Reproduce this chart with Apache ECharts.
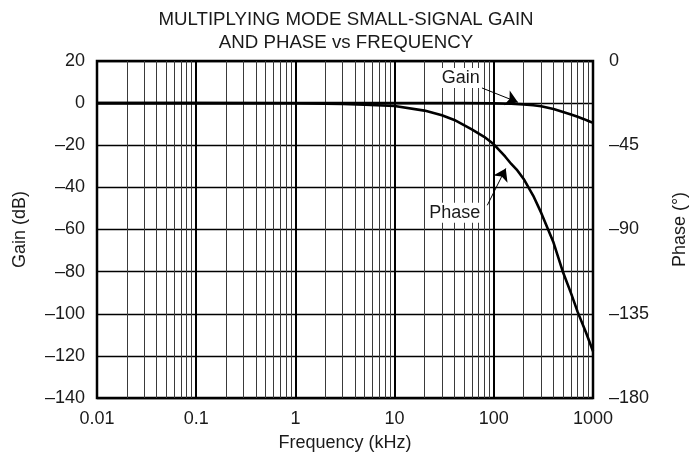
<!DOCTYPE html>
<html>
<head>
<meta charset="utf-8">
<script src="https://cdn.jsdelivr.net/npm/echarts@6/dist/echarts.min.js"></script>
<style>
  body { margin: 0; background: #fff; }
  #chart { width: 698px; height: 462px; }
</style>
</head>
<body>
<div id="chart"></div>
<script>
  // frequency points in kHz
  var gainFreq = [0.01, 0.1, 1, 10, 50, 100, 150, 200, 250, 300, 400, 500, 600, 700, 800, 900, 1000]
  var gainDb = [0, 0, 0, 0, 0, -0.1, -0.3, -0.6, -1.0, -1.5, -2.8, -4.2, -5.4, -6.5, -7.5, -8.5, -9.4]

  var phaseFreq = [0.01, 0.1, 1, 2, 3, 5, 10, 20, 30, 40, 60, 80, 100, 130, 150, 170, 200, 250, 300, 400, 500, 600, 700, 850, 1000]
  var phaseDeg = [-22.5, -22.5, -22.6, -22.8, -23, -23.4, -24, -26.5, -29, -31.5, -36.5, -40.5, -44.5, -51, -55, -58, -63, -72, -81, -97, -113, -124, -134, -145, -155]

  // minor log gridlines 2..9 in every decade
  var decades = [0.01, 0.1, 1, 10, 100]
  var minorSteps = [2, 3, 4, 5, 6, 7, 8, 9]

  var gainTicks = [20, 0, -20, -40, -60, -80, -100, -120, -140]
  var phaseTicks = [0, -45, -90, -135, -180]

  function pairs(xs, ys) {
    var arr = []
    for (var i = 0; i < xs.length; i++) {
      arr.push([xs[i], ys[i]])
    }
    return arr
  }

  function fmtNeg(v) {
    return v < 0 ? '\u2013' + Math.abs(v) : '' + v
  }

  var minorLines = []
  for (var d = 0; d < decades.length; d++) {
    for (var m = 0; m < minorSteps.length; m++) {
      minorLines.push({xAxis: +(decades[d] * minorSteps[m]).toPrecision(3)})
    }
  }

  var font = '"Liberation Sans", Arial, Helvetica, sans-serif'
  var txt = '#1a1a1a'
  var chart = echarts.init(document.getElementById('chart'), null, {renderer: 'canvas'})

  var option = {
    backgroundColor: '#fff',
    animation: false,
    textStyle: {fontFamily: font},
    title: {
      text: 'MULTIPLYING MODE SMALL-SIGNAL GAIN\nAND PHASE vs FREQUENCY',
      left: 341,
      textAlign: 'center',
      top: 3,
      textStyle: {
        fontFamily: font,
        fontSize: 18.7,
        fontWeight: 'normal',
        color: txt,
        lineHeight: 23.5
      }
    },
    grid: {
      left: 97,
      right: 105,
      top: 61,
      bottom: 64,
      show: true,
      borderColor: '#000',
      borderWidth: 2.5,
      backgroundColor: 'transparent'
    },
    xAxis: {
      type: 'log',
      logBase: 10,
      min: 0.01,
      max: 1000,
      name: 'Frequency (kHz)',
      nameLocation: 'middle',
      nameGap: 36,
      nameTextStyle: {fontFamily: font, fontSize: 18, color: txt},
      axisLine: {show: false},
      axisTick: {show: false},
      axisLabel: {
        fontFamily: font,
        fontSize: 18,
        color: txt,
        margin: 12,
        formatter: function (v) { return '' + (+v.toPrecision(3)) }
      },
      splitLine: {show: true, lineStyle: {color: '#000', width: 2}}
    },
    yAxis: [
      {
        type: 'value',
        min: -140,
        max: 20,
        interval: 20,
        name: 'Gain (dB)',
        nameLocation: 'middle',
        nameGap: 68,
        nameTextStyle: {fontFamily: font, fontSize: 18, color: txt},
        axisLine: {show: false},
        axisTick: {show: false},
        axisLabel: {
          fontFamily: font, fontSize: 18, color: txt, margin: 12,
          formatter: function (v) { return gainTicks.indexOf(v) >= 0 ? fmtNeg(v) : '' }
        },
        splitLine: {show: true, lineStyle: {color: '#000', width: 1.3}}
      },
      {
        type: 'value',
        min: -180,
        max: 0,
        interval: 45,
        position: 'right',
        name: 'Phase (°)',
        nameLocation: 'middle',
        nameGap: 78,
        nameRotate: 90,
        nameTextStyle: {fontFamily: font, fontSize: 18, color: txt},
        axisLine: {show: false},
        axisTick: {show: false},
        axisLabel: {
          fontFamily: font, fontSize: 18, color: txt, margin: 16,
          formatter: function (v) { return phaseTicks.indexOf(v) >= 0 ? fmtNeg(v) : '' }
        },
        splitLine: {show: false}
      }
    ],
    series: [
      {
        name: 'Gain',
        type: 'line',
        yAxisIndex: 0,
        data: pairs(gainFreq, gainDb),
        showSymbol: false,
        z: 5,
        lineStyle: {color: '#000', width: 2.6, join: 'round'},
        markLine: {
          silent: true,
          symbol: 'none',
          label: {show: false},
          lineStyle: {color: '#3a3a3a', width: 1, type: 'solid'},
          z: 1,
          data: minorLines
        }
      },
      {
        name: 'Phase',
        type: 'line',
        yAxisIndex: 1,
        data: pairs(phaseFreq, phaseDeg),
        showSymbol: false,
        z: 5,
        lineStyle: {color: '#000', width: 2.6, join: 'round'}
      },
      {
        // callouts drawn in gain-axis units
        name: 'notes',
        type: 'line',
        yAxisIndex: 0,
        data: [],
        z: 6,
        markLine: {
          silent: true,
          symbol: ['none', 'arrow'],
          symbolSize: 12,
          label: {show: false},
          lineStyle: {color: '#000', width: 1, type: 'solid'},
          itemStyle: {color: '#000'},
          data: [
            [{coord: [76, 7.2]}, {coord: [175, 0.4]}],
            [{coord: [86, -48.5]}, {coord: [132, -31]}]
          ]
        },
        markPoint: {
          silent: true,
          symbol: 'rect',
          symbolSize: 1,
          itemStyle: {color: 'rgba(0,0,0,0)'},
          label: {
            show: true,
            position: 'inside',
            fontFamily: font,
            fontSize: 18,
            color: txt,
            backgroundColor: '#fff',
            padding: [1, 1]
          },
          data: [
            {coord: [46.5, 11.9], value: 'Gain', label: {formatter: 'Gain'}},
            {coord: [40.5, -52], value: 'Phase', label: {formatter: 'Phase'}}
          ]
        }
      }
    ]
  }

  chart.setOption(option)
</script>
</body>
</html>
